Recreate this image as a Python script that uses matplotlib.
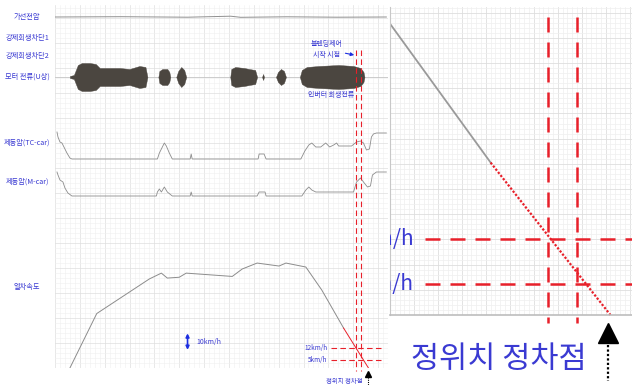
import numpy as np
import matplotlib
matplotlib.use("Agg")
import matplotlib.pyplot as plt

plt.rcParams['font.family'] = ['Noto Sans CJK KR', 'DejaVu Sans']

# ---- data (time in s) ----
channel_names = ['가선전압', '강제회생차단1', '강제회생차단2', '모터 전류(U상)',
                 '제동압(TC-car)', '제동압(M-car)', '열차속도']
channel_rows = [351, 330, 312, 291, 225, 186, 81]   # label rows on the strip chart

volt_t = [0, 20, 40, 53, 56, 70, 85, 100]
volt_v = [0, 0.3, -0.2, 0.8, -0.3, 0.2, -0.2, 0]

# motor current envelope, one list per burst (time, half amplitude)
motor_bursts = [
    ([4.5, 5.7, 6.9, 8.1, 10.5, 12.3, 13.5, 19.5, 22.5, 25.5, 27.3, 27.9],
     [1, 2, 12, 14, 14, 13, 9, 9, 8, 11, 10, 0]),
    ([31.2, 31.5, 32.4, 33.9, 34.5, 34.8], [0, 6, 8, 8, 5, 0]),
    ([36.6, 37.2, 38.1, 39.0, 39.6], [0, 6, 10, 7, 0]),
    ([52.9, 53.2, 54.4, 57.1, 58.6, 60.4, 61.0], [0, 8, 10, 9, 8, 7, 0]),
    ([62.5, 62.8, 63.1], [0, 3, 0]),
    ([66.7, 67.3, 68.2, 69.1, 69.7], [0, 5, 8, 6, 0]),
    ([73.9, 74.5, 76.0, 79.6, 85.6, 90.1, 92.2, 93.1, 93.4],
     [0, 7, 10, 11, 12, 11, 9, 5, 0]),
]

tc_t = [0.6, 0.9, 1.5, 2.1, 2.4, 3.6, 4.5, 5.1, 30.9, 31.5, 32.4, 33.0, 33.6, 34.5,
        35.4, 40.8, 41.1, 41.4, 61.3, 61.6, 63.1, 63.7, 74.2, 75.4, 76.6, 77.5,
        78.7, 80.2, 81.7, 82.9, 84.1, 85.0, 85.6, 89.5, 91.0, 92.2, 93.1, 94.0,
        94.9, 95.5, 96.1, 97.0, 100.0]
tc_p = [27, 22, 17, 16, 14, 6, 1, 0, 0, 6, 12, 16, 13, 6,
        0, 0, 5, 0, 0, 5, 5, 0, 0, 8, 14, 16,
        12, 12, 16, 12, 14, 16, 13, 13, 17, 18, 16, 9,
        10, 22, 25, 26, 26]

mc_t = [0.6, 0.9, 1.5, 2.4, 3.0, 3.9, 5.1, 30.6, 30.9, 31.5, 32.1, 33.0, 33.9,
        35.4, 40.8, 41.1, 41.4, 61.0, 61.6, 63.4, 63.7, 74.5, 75.7, 76.6, 77.5,
        78.7, 90.1, 91.0, 92.2, 93.1, 94.3, 95.2, 95.8, 97.0, 100.0]
mc_p = [24, 21, 16, 14, 8, 3, 0, 0, 4, 7, 4, 9, 4,
        0, 0, 4, 0, 0, 4, 4, 0, 0, 6, 9, 6,
        4, 4, 14, 18, 14, 9, 10, 21, 24, 24]

speed_t = [4.5, 12.6, 28.5, 32.1, 33.9, 37.5, 39.6, 53.5, 56.5, 61.0, 67.6,
           69.7, 75.7, 80.5, 87.1, 94.6]
speed_v = [0, 33, 54, 57.5, 54.5, 55, 57.5, 55.5, 60, 63.6, 61.8,
           63.6, 61.2, 47.3, 24.2, 0]
blend_from = 87.1          # speed trace drawn red from here on
cut_times = [90.7, 92.5]   # 12 km/h and 5 km/h crossings
cut_speeds = [12, 5]
cut_labels = ['12km/h', '5km/h']

# strip chart scaling
volt_row, motor_row, tc_row, mc_row = 351, 291, 209, 172
kmh = 1.65

blue = '#3a3ad2'
trace = '#8c8c8c'
red = '#e8202a'

fig = plt.figure(figsize=(6.32, 3.85), dpi=100)

# ---------------- main record ----------------
ax = fig.add_axes([55 / 632, 17 / 385, 333 / 632, 363 / 385])
ax.set_xlim(0, 100)
ax.set_ylim(0, 363)
ax.set_xticks(np.arange(0, 101, 7.5))
ax.set_xticks(np.arange(0, 101, 1.5), minor=True)
ax.set_yticks(np.arange(0, 364, 25))
ax.set_yticks(np.arange(0, 364, 5), minor=True)
ax.grid(which='major', color='#dedede', lw=0.5)
ax.grid(which='minor', color='#f0f0f0', lw=0.4)
ax.tick_params(which='both', length=0, labelbottom=False, labelleft=False)
for s in ax.spines.values():
    s.set_visible(False)

for name, row in zip(channel_names, channel_rows):
    ax.text(-8.4, row, name, fontsize=5.2, color=blue, ha='center', va='center',
            clip_on=False)
ax.axhline(motor_row, color='#c4c4c4', lw=0.6)

ax.plot(volt_t, volt_row + np.array(volt_v), color='#909090', lw=0.7)

for bt, ba in motor_bursts:
    ba = np.array(ba)
    ax.fill_between(bt, motor_row - ba, motor_row + ba, color='#4b4640', lw=0.3,
                    edgecolor='#4b4640', zorder=3)

ax.plot(tc_t, tc_row + np.array(tc_p), color=trace, lw=0.6)
ax.plot(mc_t, mc_row + np.array(mc_p), color=trace, lw=0.6)

st = np.array(speed_t)
sv = np.array(speed_v)
k = int(np.searchsorted(st, blend_from))
ax.plot(st[:k + 1], sv[:k + 1] * kmh, color=trace, lw=0.7)
ax.plot(st[k:], sv[k:] * kmh, color=red, lw=0.7)

for tx in cut_times:
    ax.plot([tx, tx], [318, -3], color=red, lw=0.8, ls=(0, (5, 3)), clip_on=False,
            zorder=4)
for sp, lab in zip(cut_speeds, cut_labels):
    ax.plot([83.2, 99.4], [sp * kmh, sp * kmh], color=red, lw=0.8, ls=(0, (5, 3)))
    ax.text(82.3, sp * kmh, lab, fontsize=4.6, color=blue, ha='right', va='center')

ax.annotate('', xy=(40, 11 * kmh), xytext=(40, 21 * kmh),
            arrowprops=dict(arrowstyle='<|-|>', color='#1c2ee0', lw=1.2,
                            mutation_scale=5, shrinkA=0, shrinkB=0))
ax.text(42.6, 16 * kmh, '10km/h', fontsize=5, color=blue, va='center')

ax.annotate('블렌딩제어\n시작 시점', xy=(90.3, 313), xytext=(82.0, 318.5),
            fontsize=5, color=blue, ha='center', va='center', linespacing=1.5,
            arrowprops=dict(arrowstyle='-|>', color='#1c2ee0', lw=0.8,
                            mutation_scale=5, shrinkA=9, shrinkB=0))
ax.text(83.2, 273, '인버터 회생전류', fontsize=5, color=blue, ha='center',
        va='center')

stop_t = speed_t[-1]
ax.plot([stop_t, stop_t], [-9, -17], color='black', lw=0.8, ls=(0, (1, 1)),
        clip_on=False)
ax.plot([stop_t], [-5.5], marker='^', ms=5, color='black', clip_on=False)
ax.text(87.4, -13, '정위치 정차점', fontsize=4.6, color=blue, ha='center',
        va='center', clip_on=False)

# ---------------- zoomed view near the stop ----------------
ins = fig.add_axes([390 / 632, 70 / 385, 242 / 632, 308 / 385])
ins.set_xlim(80.8, 95.95)
ins.set_ylim(0, 48.9)
ins.set_xticks(np.arange(80.8, 96.0, 1.5))
ins.set_xticks(np.arange(80.8, 96.0, 0.3), minor=True)
ins.set_yticks(np.arange(0, 49, 4))
ins.set_yticks(np.arange(0, 49, 0.8), minor=True)
ins.grid(which='major', color='#dedede', lw=0.6)
ins.grid(which='minor', color='#efefef', lw=0.5)
ins.tick_params(which='both', length=0, labelbottom=False, labelleft=False)
for side in ['top', 'right']:
    ins.spines[side].set_visible(False)
ins.spines['left'].set_color('#c8c8c8')
ins.spines['bottom'].set_color('#bdbdbd')
ins.spines['bottom'].set_linewidth(1.2)

ins.plot(st[:k + 1], sv[:k + 1], color='#9a9a9a', lw=1.3)
ins.plot(st[k:], sv[k:], color=red, lw=1.6, ls=(0, (1, 0.8)), clip_on=False)

for tx in cut_times:
    ins.plot([tx, tx], [47.3, -1.2], color=red, lw=1.8, ls=(0, (6, 4)),
             clip_on=False)
for sp, lab in zip(cut_speeds, cut_labels):
    ins.plot([83.0, 95.95], [sp, sp], color=red, lw=1.8, ls=(0, (6, 4)))
    ins.text(82.3, sp, lab, fontsize=15, color=blue, ha='right', va='center',
             clip_on=True)

ins.plot([stop_t - 0.15] * 2, [-4.8, -10.5], color='black', lw=1.6,
         ls=(0, (1, 1)), clip_on=False)
ins.plot([stop_t - 0.15], [-2.9], marker='^', ms=15, color='black',
         clip_on=False)
ins.text(87.6, -7.1, '정위치 정차점', fontsize=22, color=blue, ha='center',
         va='center', clip_on=False)

fig.savefig('out.png', dpi=100)
